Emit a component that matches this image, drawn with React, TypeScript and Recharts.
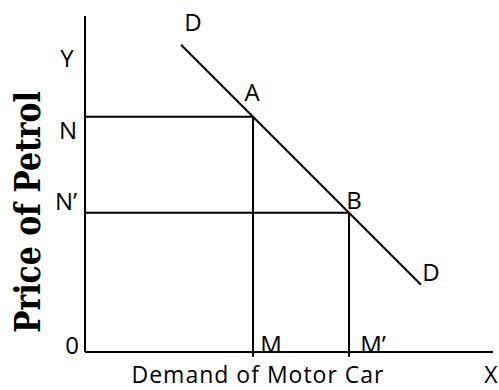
import {
  ComposedChart,
  Line,
  XAxis,
  YAxis,
  ReferenceLine,
  ReferenceDot,
} from 'recharts';

// demand curve D-D (quantity of motor cars vs price of petrol)
const demandQty = [4, 14];
const demandPrice = [12.8, 2.8];
// price levels N, N' and quantities M, M'
const priceLevels = [9.8, 5.8];
const priceLabels = ['N', 'N\u2019'];
const qtyLevels = [7, 11];
const qtyLabels = ['M', 'M\u2019'];
const pointLabels = ['A', 'B'];
const xMax = 17;
const yMax = 14;

const data = demandQty.map((q, i) => ({ q, p: demandPrice[i] }));

const font = "'Open Sans', sans-serif";
const ink = '#000';

const txt = (value: string, dx: number, dy: number, size = 24) => (p: any) => {
  const vb = p.viewBox || {};
  return (
    <text
      x={vb.x + dx}
      y={vb.y + dy}
      textAnchor='middle'
      dominantBaseline='central'
      fontFamily={font}
      fontSize={size}
      fill={ink}
    >
      {value}
    </text>
  );
};

// bottom texts placed by their baseline so they stay inside the picture
const bottomTxt = (value: string, dx: number, spacing = 0) => (p: any) => {
  const vb = p.viewBox || {};
  return (
    <text
      x={vb.x + dx}
      y={vb.y + 31}
      textAnchor='middle'
      fontFamily={font}
      fontSize={23}
      letterSpacing={spacing}
      fill={ink}
    >
      {value}
    </text>
  );
};

// rotated, condensed bold serif title for the price axis
const titleY = (p: any) => {
  const vb = p.viewBox || {};
  const x = vb.x - 57.5;
  const y = vb.y;
  return (
    <text
      x={0}
      y={0}
      transform={`translate(${x} ${y}) rotate(-90) scale(0.83 1)`}
      textAnchor='middle'
      dominantBaseline='central'
      fontFamily="'DejaVu Serif', serif"
      fontWeight='bold'
      fontSize={36}
      fill={ink}
    >
      Price of Petrol
    </text>
  );
};

const Mark = (x: number, y: number, label: any, key: string) => (
  <ReferenceDot
    key={key}
    x={x}
    y={y}
    r={0}
    stroke='none'
    fill='none'
    ifOverflow='visible'
    label={label}
  />
);

const App = () => {
  return (
    <div style={{ position: 'absolute', left: 0, top: 0, background: '#fff' }}>
      <ComposedChart
        width={499}
        height={390}
        data={data}
        margin={{ top: 16, right: 6, bottom: 38, left: 85 }}
      >
        <XAxis dataKey='q' type='number' domain={[0, xMax]} hide />
        <YAxis type='number' domain={[0, yMax]} hide />

        {/* axes */}
        <ReferenceLine
          segment={[
            { x: 0, y: 0 },
            { x: 0, y: yMax },
          ]}
          stroke={ink}
          strokeWidth={2}
          ifOverflow='visible'
        />
        <ReferenceLine
          segment={[
            { x: 0, y: 0 },
            { x: xMax, y: 0 },
          ]}
          stroke={ink}
          strokeWidth={2}
          ifOverflow='visible'
        />

        {priceLevels.map((p, i) => (
          <ReferenceLine
            key={'h' + i}
            segment={[
              { x: 0, y: p },
              { x: qtyLevels[i], y: p },
            ]}
            stroke={ink}
            strokeWidth={2}
            ifOverflow='visible'
          />
        ))}
        {qtyLevels.map((q, i) => (
          <ReferenceLine
            key={'v' + i}
            segment={[
              { x: q, y: -0.2 },
              { x: q, y: priceLevels[i] },
            ]}
            stroke={ink}
            strokeWidth={2}
            ifOverflow='visible'
          />
        ))}

        <Line
          dataKey='p'
          stroke={ink}
          strokeWidth={2}
          dot={false}
          isAnimationActive={false}
        />

        {Mark(0, 5.83, titleY, 'title')}
        {Mark(xMax / 2, 0, bottomTxt('Demand of Motor Car', -31, 1), 'xtitle')}
        {Mark(0, yMax, txt('Y', -18, 41), 'y')}
        {Mark(0, 0, txt('0', -13, -8), 'o')}
        {Mark(xMax, 0, bottomTxt('X', -2), 'x')}
        {priceLevels.map((p, i) =>
          Mark(0, p, txt(priceLabels[i], i === 0 ? -17 : -19, i === 0 ? 13 : -12), 'pl' + i)
        )}
        {qtyLevels.map((q, i) =>
          Mark(q, 0, txt(qtyLabels[i], i === 0 ? 18 : 24, -9), 'ql' + i)
        )}
        {Mark(qtyLevels[0], priceLevels[0], txt(pointLabels[0], -1, -25), 'a')}
        {Mark(qtyLevels[1], priceLevels[1], txt(pointLabels[1], 5, -13), 'b')}
        {Mark(demandQty[0], demandPrice[0], txt('D', 12, -23), 'd1')}
        {Mark(demandQty[1], demandPrice[1], txt('D', 10, -13), 'd2')}
      </ComposedChart>
    </div>
  );
};

export default App;
